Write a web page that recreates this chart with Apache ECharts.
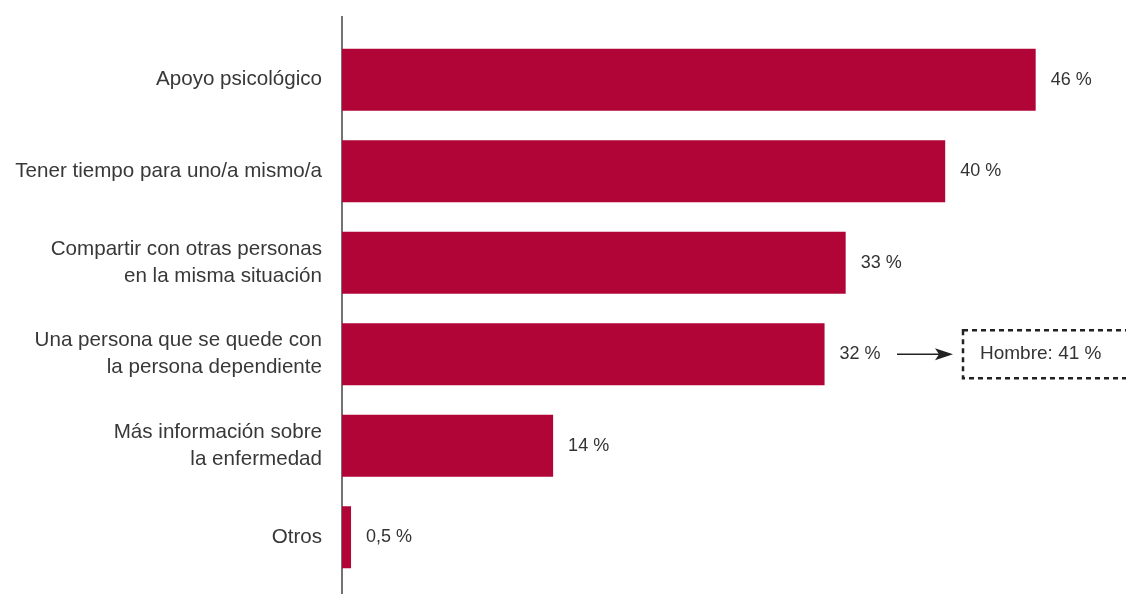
<!DOCTYPE html>
<html>
<head>
<meta charset="utf-8">
<script src="https://cdn.jsdelivr.net/npm/echarts@6/dist/echarts.min.js"></script>
<style>
  html, body { margin: 0; padding: 0; background: #fff; }
  #main { width: 1126px; height: 594px; }
</style>
</head>
<body>
<div id="main"></div>
<script>
  // datos
  const categories = [
    'Apoyo psicológico',
    'Tener tiempo para uno/a mismo/a',
    'Compartir con otras personas\nen la misma situación',
    'Una persona que se quede con\nla persona dependiente',
    'Más información sobre\nla enfermedad',
    'Otros'
  ];
  const values = [46, 40, 33.4, 32, 14, 0.6];
  const valueLabels = ['46 %', '40 %', '33 %', '32 %', '14 %', '0,5 %'];
  const noteIndex = 3;
  const noteText = 'Hombre: 41 %';

  const chart = echarts.init(document.getElementById('main'));
  const font = '"Liberation Sans", Arial, sans-serif';

  let option = {
    animation: false,
    textStyle: { fontFamily: font },
    grid: { left: 342, right: 30, top: 34, bottom: 11 },
    xAxis: {
      type: 'value',
      min: 0,
      max: 50,
      show: false
    },
    yAxis: {
      type: 'category',
      data: categories,
      inverse: true,
      axisLine: { show: false },
      axisTick: { show: false },
      axisLabel: {
        margin: 20,
        fontSize: 20.6,
        lineHeight: 27,
        color: '#383838',
        fontFamily: font
      }
    },
    series: [{
      type: 'bar',
      data: values,
      barWidth: 62,
      itemStyle: { color: '#b10537' },
      label: {
        show: true,
        position: 'right',
        distance: 15,
        fontSize: 18,
        color: '#333',
        fontFamily: font,
        formatter: (p) => valueLabels[p.dataIndex]
      }
    }]
  };
  chart.setOption(option);

  // eje vertical y nota "Hombre"
  const x0 = chart.convertToPixel({ gridIndex: 0 }, [0, 0])[0];
  const yNote = chart.convertToPixel({ yAxisIndex: 0 }, noteIndex);
  const ax = 897, bx = 963;
  chart.setOption({
    graphic: [
      {
        type: 'line',
        shape: { x1: x0, y1: 16, x2: x0, y2: 594 },
        style: { stroke: '#444', lineWidth: 1.5 }
      },
      {
        type: 'line',
        shape: { x1: ax, y1: yNote, x2: ax + 44, y2: yNote },
        style: { stroke: '#222', lineWidth: 1.3 }
      },
      {
        type: 'polygon',
        shape: { points: [[ax + 56, yNote], [ax + 38, yNote - 6], [ax + 42, yNote], [ax + 38, yNote + 6]] },
        style: { fill: '#222' }
      },
      {
        type: 'rect',
        shape: { x: bx, y: yNote - 24, width: 175, height: 48 },
        style: { fill: 'none', stroke: '#222', lineWidth: 2.5, lineDash: [5, 4] }
      },
      {
        type: 'text',
        x: bx + 17,
        y: yNote,
        style: {
          text: noteText,
          fontSize: 19,
          fill: '#333',
          fontFamily: font,
          verticalAlign: 'middle'
        }
      }
    ]
  });
</script>
</body>
</html>
